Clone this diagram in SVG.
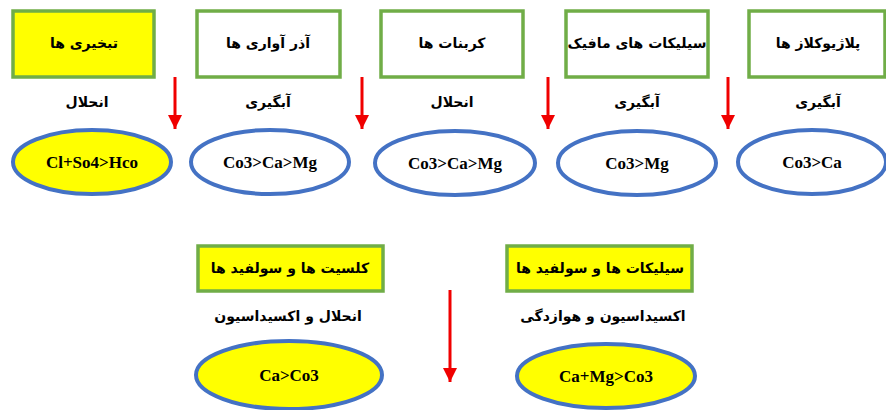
<svg xmlns="http://www.w3.org/2000/svg" width="886" height="410" viewBox="0 0 886 410">
<style>
.bx{fill:#fff;stroke:#70AD47;stroke-width:3.5}
.bxy{fill:#FFFF00;stroke:#70AD47;stroke-width:3.5}
.el{fill:#fff;stroke:#4472C4;stroke-width:4}
.ely{fill:#FFFF00;stroke:#4472C4;stroke-width:4}
.fa{font-family:"DejaVu Sans","Noto Sans",sans-serif;font-size:14px;font-weight:bold;fill:#000;text-anchor:middle;direction:rtl}
.fm{font-family:"Liberation Serif",serif;font-size:17px;font-weight:bold;fill:#000;text-anchor:middle}
.ar{stroke:#F00000;stroke-width:3;fill:none}
.ah{fill:#F00000}
</style>
<defs>
<marker id="h" viewBox="0 0 10 10" refX="10" refY="5" markerWidth="14" markerHeight="14" markerUnits="userSpaceOnUse" orient="auto">
<path d="M0,0 L10,5 L0,10 Z" class="ah"/>
</marker>
</defs>
<g id="n1"><rect class="bxy" x="13" y="11" width="141" height="66"/><text class="fa" x="84" y="48">تبخیری ها</text>
<text class="fa" x="87" y="107">انحلال</text>
<ellipse class="ely" cx="92" cy="162" rx="79" ry="32"/><text class="fm" x="92" y="168">Cl+So4&gt;Hco</text></g>
<g id="n2"><rect class="bx" x="197" y="11" width="143" height="66"/><text class="fa" x="268" y="48">آذر آواری ها</text>
<text class="fa" x="268" y="107">آبگیری</text>
<ellipse class="el" cx="270" cy="162" rx="79" ry="32"/><text class="fm" x="270" y="168">Co3&gt;Ca&gt;Mg</text></g>
<g id="n3"><rect class="bx" x="381" y="11" width="142" height="66"/><text class="fa" x="452" y="48">کربنات ها</text>
<text class="fa" x="452" y="107">انحلال</text>
<ellipse class="el" cx="455" cy="163" rx="80" ry="32"/><text class="fm" x="455" y="169">Co3&gt;Ca&gt;Mg</text></g>
<g id="n4"><rect class="bx" x="566" y="11" width="142" height="66"/><text class="fa" x="637" y="48">سیلیکات های مافیک</text>
<text class="fa" x="637" y="107">آبگیری</text>
<ellipse class="el" cx="637" cy="163" rx="79" ry="32"/><text class="fm" x="637" y="169">Co3&gt;Mg</text></g>
<g id="n5"><rect class="bx" x="749" y="11" width="136" height="66"/><text class="fa" x="818" y="48">پلاژیوکلاز ها</text>
<text class="fa" x="818" y="107">آبگیری</text>
<ellipse class="el" cx="812" cy="162" rx="74" ry="32"/><text class="fm" x="812" y="168">Co3&gt;Ca</text></g>
<g id="n6"><rect class="bxy" x="198" y="246" width="185" height="45"/><text class="fa" x="290" y="273">کلسیت ها و سولفید ها</text>
<text class="fa" x="288" y="321">انحلال و اکسیداسیون</text>
<ellipse class="ely" cx="289" cy="375" rx="93" ry="34"/><text class="fm" x="289" y="381">Ca&gt;Co3</text></g>
<g id="n7"><rect class="bxy" x="507" y="246" width="185" height="45"/><text class="fa" x="600" y="273">سیلیکات ها و سولفید ها</text>
<text class="fa" x="603" y="321">اکسیداسیون و هوازدگی</text>
<ellipse class="ely" cx="606" cy="376" rx="89" ry="32"/><text class="fm" x="606" y="382">Ca+Mg&gt;Co3</text></g>
<g id="connectors">
<line class="ar" x1="175" y1="77" x2="175" y2="129" marker-end="url(#h)"/>
<line class="ar" x1="362" y1="77" x2="362" y2="129" marker-end="url(#h)"/>
<line class="ar" x1="548" y1="77" x2="548" y2="129" marker-end="url(#h)"/>
<line class="ar" x1="728" y1="77" x2="728" y2="129" marker-end="url(#h)"/>
<line class="ar" x1="450" y1="290" x2="450" y2="382" marker-end="url(#h)"/>
</g>
</svg>
